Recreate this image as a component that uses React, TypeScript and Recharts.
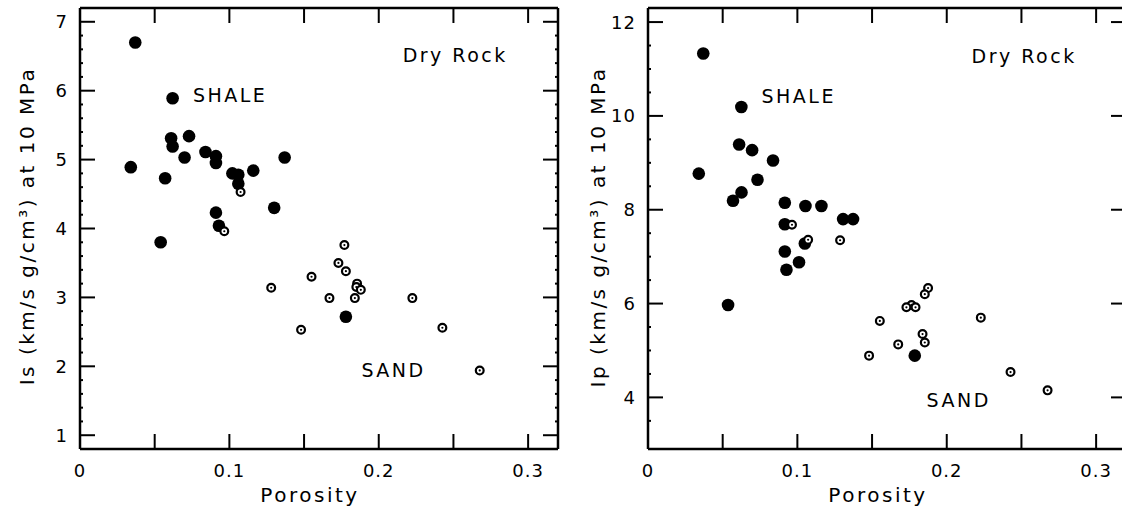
import React from "react";
import { ScatterChart, Scatter, XAxis, YAxis, ReferenceLine } from "recharts";

// porosity / impedance readings, dry rock at 10 MPa
const shaleIsPorosity = [0.037, 0.062, 0.061, 0.062, 0.073, 0.034, 0.057, 0.07, 0.084, 0.091, 0.091, 0.102, 0.106, 0.106, 0.116, 0.137, 0.13, 0.091, 0.093, 0.054, 0.178];
const shaleIs = [6.7, 5.89, 5.31, 5.19, 5.34, 4.89, 4.73, 5.03, 5.11, 5.05, 4.95, 4.8, 4.78, 4.65, 4.84, 5.03, 4.3, 4.23, 4.04, 3.8, 2.72];
const sandIsPorosity = [0.1075, 0.0966, 0.177, 0.173, 0.178, 0.155, 0.128, 0.1855, 0.185, 0.188, 0.167, 0.184, 0.2225, 0.148, 0.2426, 0.2676];
const sandIs = [4.53, 3.96, 3.76, 3.5, 3.38, 3.3, 3.14, 3.2, 3.15, 3.11, 2.99, 2.99, 2.99, 2.53, 2.56, 1.94];

const shaleIpPorosity = [0.037, 0.0625, 0.061, 0.0697, 0.0837, 0.034, 0.0733, 0.0626, 0.0569, 0.0916, 0.1054, 0.1161, 0.1306, 0.1373, 0.0916, 0.0916, 0.1011, 0.0927, 0.0536, 0.1786, 0.105];
const shaleIp = [11.33, 10.19, 9.39, 9.27, 9.05, 8.77, 8.64, 8.37, 8.19, 8.15, 8.08, 8.08, 7.8, 7.8, 7.69, 7.11, 6.88, 6.72, 5.97, 4.89, 7.28];
const sandIpPorosity = [0.0964, 0.1072, 0.1286, 0.1875, 0.1853, 0.1764, 0.173, 0.1791, 0.1552, 0.2228, 0.1838, 0.1853, 0.1675, 0.148, 0.2427, 0.2675];
const sandIp = [7.68, 7.36, 7.35, 6.33, 6.2, 5.97, 5.92, 5.92, 5.63, 5.7, 5.35, 5.17, 5.13, 4.89, 4.54, 4.15];

const xTicks = [0.05, 0.1, 0.15, 0.2, 0.25, 0.3];
const xLabels = [0, 0.1, 0.2, 0.3];
const isMajor = [1, 2, 3, 4, 5, 6, 7];
const ipMajor = [4, 6, 8, 10, 12];

const isNotes = [
  { x: 0.0756, y: 5.83, text: "SHALE" },
  { x: 0.216, y: 6.41, text: "Dry Rock" },
  { x: 0.1884, y: 1.85, text: "SAND" },
];
const ipNotes = [
  { x: 0.076, y: 10.28, text: "SHALE" },
  { x: 0.2166, y: 11.13, text: "Dry Rock" },
  { x: 0.1865, y: 3.795, text: "SAND" },
];

const FONT = "DejaVu Sans";
const X_DOMAIN: [number, number] = [0, 0.32];
const CHART_H = 510;
const MARGIN_TOP = 8;
const MARGIN_BOTTOM = 61;
const PLOT_W = 478;
const PLOT_H = CHART_H - MARGIN_TOP - MARGIN_BOTTOM; // 441
const MAJOR_LEN = 15;
const MINOR_LEN = 3;

const zip = (xs: number[], ys: number[]) => xs.map((x, i) => ({ x, y: ys[i] }));

// minor ticks between majors
const withMinor = (majors: number[], step: number, lo: number, hi: number) => {
  const out: number[] = [];
  const n = Math.round((hi - lo) / step);
  for (let i = 0; i <= n; i++) out.push(+(lo + i * step).toFixed(3));
  return out.filter((v) => !majors.includes(v)).concat(majors).sort((a, b) => a - b);
};

type Seg = [{ x: number; y: number }, { x: number; y: number }];

// inward tick marks on all four edges, as segments in data space
const frameTicks = (yTicks: number[], majors: number[], yDomain: [number, number]) => {
  const [x0, x1] = X_DOMAIN;
  const [y0, y1] = yDomain;
  const perPxX = (x1 - x0) / PLOT_W;
  const perPxY = (y1 - y0) / PLOT_H;
  const segs: Seg[] = [];
  xTicks.forEach((t) => {
    segs.push([{ x: t, y: y0 + MAJOR_LEN * perPxY }, { x: t, y: y0 }]);
    segs.push([{ x: t, y: y1 }, { x: t, y: y1 - MAJOR_LEN * perPxY }]);
  });
  yTicks.filter((t) => t > y0 && t < y1).forEach((t) => {
    const len = (majors.includes(t) ? MAJOR_LEN : MINOR_LEN) * perPxX;
    segs.push([{ x: x0 + len, y: t }, { x: x0, y: t }]);
    segs.push([{ x: x1, y: t }, { x: x1 - len, y: t }]);
  });
  return segs;
};

const Filled = (p: any) => <circle cx={p.cx} cy={p.cy} r={6.3} fill="#000" />;
const Open = (p: any) => (
  <g>
    <circle cx={p.cx} cy={p.cy} r={3.9} fill="#fff" stroke="#000" strokeWidth={2.2} />
    <circle cx={p.cx} cy={p.cy} r={1.1} fill="#000" />
  </g>
);
const Note = (p: any) => (
  <text x={p.cx} y={p.cy} fontFamily={FONT} fontSize={19} letterSpacing={2.5} fill="#000">
    {p.payload.text}
  </text>
);
const XLabel = (p: any) => (
  <text x={p.cx} y={p.cy + 28} textAnchor="middle" fontFamily={FONT} fontSize={18} letterSpacing={1} fill="#000">
    {p.payload.text}
  </text>
);
const YLabel = (p: any) => (
  <text x={p.cx - 12} y={p.cy + 6.5} textAnchor="end" fontFamily={FONT} fontSize={18} letterSpacing={1} fill="#000">
    {p.payload.text}
  </text>
);

interface PanelProps {
  yWidth: number;
  rightMargin: number;
  yDomain: [number, number];
  yTicks: number[];
  majors: number[];
  shale: { x: number; y: number }[];
  sand: { x: number; y: number }[];
  notes: { x: number; y: number; text: string }[];
}

const Panel = ({ yWidth, rightMargin, yDomain, yTicks, majors, shale, sand, notes }: PanelProps) => {
  const [x0, x1] = X_DOMAIN;
  const [y0, y1] = yDomain;
  const xLabelPts = xLabels.map((v) => ({ x: v, y: y0, text: String(v) }));
  const yLabelPts = majors.map((v) => ({ x: x0, y: v, text: String(v) }));
  return (
    <ScatterChart
      width={yWidth + PLOT_W + rightMargin}
      height={CHART_H}
      margin={{ top: MARGIN_TOP, right: rightMargin, bottom: MARGIN_BOTTOM, left: yWidth }}
    >
      <XAxis type="number" dataKey="x" domain={X_DOMAIN} hide />
      <YAxis type="number" dataKey="y" domain={yDomain} hide />
      {/* frame */}
      <ReferenceLine x={x0} stroke="#000" strokeWidth={2.5} ifOverflow="visible" />
      <ReferenceLine x={x1} stroke="#000" strokeWidth={2.5} ifOverflow="visible" />
      <ReferenceLine y={y0} stroke="#000" strokeWidth={2.5} ifOverflow="visible" />
      <ReferenceLine y={y1} stroke="#000" strokeWidth={2.5} ifOverflow="visible" />
      {frameTicks(yTicks, majors, yDomain).map((seg, i) => (
        <ReferenceLine key={i} segment={seg} stroke="#000" strokeWidth={2} ifOverflow="visible" />
      ))}
      <Scatter data={xLabelPts} shape={XLabel} isAnimationActive={false} />
      <Scatter data={yLabelPts} shape={YLabel} isAnimationActive={false} />
      <Scatter data={shale} shape={Filled} isAnimationActive={false} />
      <Scatter data={sand} shape={Open} isAnimationActive={false} />
      <Scatter data={notes} shape={Note} isAnimationActive={false} />
    </ScatterChart>
  );
};

const titleStyle = { fontFamily: FONT, fontSize: 20, letterSpacing: 2.5, fill: "#000" } as const;

export default function App() {
  return (
    <div
      style={{
        position: "absolute",
        left: 0,
        top: 0,
        width: 1122,
        height: 510,
        overflow: "hidden",
        background: "#fff",
      }}
    >
      <div style={{ position: "absolute", left: 0, top: 0 }}>
        <Panel
          yWidth={80}
          rightMargin={3}
          yDomain={[0.8, 7.2]}
          yTicks={withMinor(isMajor, 0.2, 0.8, 7.2)}
          majors={isMajor}
          shale={zip(shaleIsPorosity, shaleIs)}
          sand={zip(sandIsPorosity, sandIs)}
          notes={isNotes}
        />
      </div>
      <div style={{ position: "absolute", left: 561, top: 0 }}>
        <Panel
          yWidth={87}
          rightMargin={5}
          yDomain={[2.9, 12.3]}
          yTicks={withMinor(ipMajor, 0.5, 3.5, 12)}
          majors={ipMajor}
          shale={zip(shaleIpPorosity, shaleIp)}
          sand={zip(sandIpPorosity, sandIp)}
          notes={ipNotes}
        />
      </div>
      {/* axis titles */}
      <svg width={1122} height={510} style={{ position: "absolute", left: 0, top: 0, pointerEvents: "none" }}>
        <text x={310} y={502} textAnchor="middle" {...titleStyle}>Porosity</text>
        <text x={878} y={502} textAnchor="middle" {...titleStyle}>Porosity</text>
        <text x={34} y={226} transform="rotate(-90 34 226)" textAnchor="middle" {...titleStyle}>
          Is (km/s g/cm³) at 10 MPa
        </text>
        <text x={605} y={227} transform="rotate(-90 605 227)" textAnchor="middle" {...titleStyle}>
          Ip (km/s g/cm³) at 10 MPa
        </text>
      </svg>
    </div>
  );
}
